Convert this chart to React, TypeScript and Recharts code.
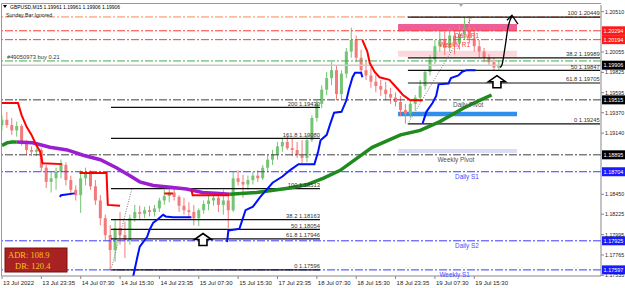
import { Bar, ComposedChart, Line, ReferenceArea, ReferenceDot, ReferenceLine, XAxis, YAxis } from 'recharts'

const FONT = '"Liberation Sans", Arial, sans-serif'
const UP = '#74c474'
const DOWN = '#f27a7a'

// one candle per hour (every 4th M15 bar): open, high, low, close
const candles: number[][] = [
  [1.1923, 1.1934, 1.1917, 1.1929], [1.1929, 1.1938, 1.1920, 1.1923], [1.1923, 1.1931, 1.1912, 1.1917],
  [1.1917, 1.1927, 1.1910, 1.1922], [1.1922, 1.1924, 1.1900, 1.1904], [1.1904, 1.1906, 1.1889, 1.1895],
  [1.1895, 1.1899, 1.1888, 1.1893], [1.1893, 1.1897, 1.1888, 1.1895], [1.1895, 1.1897, 1.1870, 1.1875],
  [1.1875, 1.1878, 1.1852, 1.1859], [1.1859, 1.1870, 1.1847, 1.1863], [1.1863, 1.1875, 1.1850, 1.1870],
  [1.1870, 1.1884, 1.1863, 1.1878], [1.1878, 1.1881, 1.1855, 1.1861], [1.1861, 1.1866, 1.1844, 1.1850],
  [1.1850, 1.1855, 1.1838, 1.1844], [1.1844, 1.1872, 1.1824, 1.1863], [1.1863, 1.1875, 1.1855, 1.1870],
  [1.1870, 1.1872, 1.1850, 1.1854], [1.1854, 1.1861, 1.1833, 1.1838], [1.1838, 1.1844, 1.1810, 1.1818],
  [1.1818, 1.1822, 1.1793, 1.1799], [1.1799, 1.1810, 1.17596, 1.1782], [1.1782, 1.1816, 1.1769, 1.1807],
  [1.1807, 1.1825, 1.1788, 1.1799], [1.1799, 1.1814, 1.1773, 1.1793], [1.1793, 1.1822, 1.1788, 1.1818],
  [1.1818, 1.1833, 1.1814, 1.1825], [1.1825, 1.1832, 1.1816, 1.1823], [1.1823, 1.1831, 1.1818, 1.1827],
  [1.1827, 1.1832, 1.1820, 1.1825], [1.1825, 1.1833, 1.1820, 1.1829], [1.1829, 1.1841, 1.1825, 1.1838],
  [1.1838, 1.1850, 1.1833, 1.1843], [1.1843, 1.1852, 1.1836, 1.1847], [1.1847, 1.1854, 1.1838, 1.1842],
  [1.1842, 1.1844, 1.1825, 1.1832], [1.1832, 1.1841, 1.1822, 1.1827], [1.1827, 1.1836, 1.1818, 1.1825],
  [1.1825, 1.1833, 1.1810, 1.1818], [1.1818, 1.1829, 1.1809, 1.1827], [1.1827, 1.1838, 1.1823, 1.1834],
  [1.1834, 1.1843, 1.1827, 1.1838], [1.1838, 1.1847, 1.1832, 1.1841], [1.1841, 1.1845, 1.1825, 1.1833],
  [1.1833, 1.1850, 1.1822, 1.1838], [1.1838, 1.1847, 1.1807, 1.1827], [1.1827, 1.1870, 1.1825, 1.1863],
  [1.1863, 1.1872, 1.1855, 1.1859], [1.1859, 1.1867, 1.1841, 1.1856], [1.1856, 1.1866, 1.1850, 1.1861],
  [1.1861, 1.1870, 1.1856, 1.1866], [1.1866, 1.1872, 1.1859, 1.1863], [1.1863, 1.1878, 1.1861, 1.1875],
  [1.1875, 1.1889, 1.1870, 1.1884], [1.1884, 1.1895, 1.1878, 1.1890], [1.1890, 1.1904, 1.1884, 1.1899],
  [1.1899, 1.1908, 1.1893, 1.1904], [1.1904, 1.1911, 1.1895, 1.1897], [1.1897, 1.1908, 1.1888, 1.1895],
  [1.1895, 1.1904, 1.1886, 1.1889], [1.1889, 1.1906, 1.1880, 1.1886], [1.1886, 1.1912, 1.1881, 1.1906],
  [1.1906, 1.1934, 1.1904, 1.1931], [1.1931, 1.1951, 1.1927, 1.1947], [1.1947, 1.1968, 1.1942, 1.1963],
  [1.1963, 1.1983, 1.1957, 1.1976], [1.1976, 1.1994, 1.1968, 1.1985], [1.1985, 1.1990, 1.1951, 1.1958],
  [1.1958, 1.1985, 1.1951, 1.1981], [1.1981, 1.2010, 1.1976, 1.2006], [1.2006, 1.2033, 1.1999, 1.2019],
  [1.2019, 1.2024, 1.1994, 1.1999], [1.1999, 1.2008, 1.1980, 1.1985], [1.1985, 1.1997, 1.1974, 1.1979],
  [1.1979, 1.1988, 1.1965, 1.1972], [1.1972, 1.1980, 1.1960, 1.1967], [1.1967, 1.1974, 1.1956, 1.1963],
  [1.1963, 1.1972, 1.1951, 1.1958], [1.1958, 1.1965, 1.1947, 1.1954], [1.1954, 1.1960, 1.1944, 1.1949],
  [1.1949, 1.1956, 1.1933, 1.1940], [1.1940, 1.1947, 1.19245, 1.1936], [1.1936, 1.1951, 1.1931, 1.1947],
  [1.1947, 1.1957, 1.1940, 1.1954], [1.1954, 1.1974, 1.1949, 1.1967], [1.1967, 1.1985, 1.1963, 1.1983],
  [1.1983, 1.2002, 1.1979, 1.1997], [1.1997, 1.2019, 1.1992, 1.2012], [1.2012, 1.2030, 1.2006, 1.2019],
  [1.2019, 1.2028, 1.2002, 1.2010], [1.2010, 1.2033, 1.2006, 1.2024], [1.2024, 1.2030, 1.2003, 1.2015],
  [1.2015, 1.2035, 1.2008, 1.2026], [1.2026, 1.20449, 1.2019, 1.2033], [1.2033, 1.2044, 1.2015, 1.2021],
  [1.2021, 1.2033, 1.2006, 1.2012], [1.2012, 1.2019, 1.1999, 1.2006], [1.2006, 1.2010, 1.1994, 1.1999],
  [1.1999, 1.2003, 1.1990, 1.1994], [1.1994, 1.1999, 1.1985, 1.1988], [1.1988, 1.19961, 1.1985, 1.19906],
]

const timeTicks = [0, 32, 64, 96, 128, 160, 192, 224, 256, 288, 320, 352, 384]
const timeLabels = ['13 Jul 2022', '13 Jul 23:35', '14 Jul 07:30', '14 Jul 15:30', '14 Jul 23:35', '15 Jul 07:30',
  '15 Jul 15:30', '17 Jul 23:35', '18 Jul 07:30', '18 Jul 15:30', '18 Jul 23:35', '19 Jul 07:30', '19 Jul 15:30']
const priceTicks = [1.2051, 1.20055, 1.19825, 1.19595, 1.1937, 1.1914, 1.1845, 1.18225, 1.17995, 1.17765, 1.17535]

// [bar, price]; null breaks the line
const redStop: (number | null)[][] = [
  [0, 1.1948], [13, 1.1948], [16, 1.1934], [20, 1.1921], [24, 1.1912], [28, 1.19], [31, 1.1893], [33, 1.188],
  [49, 1.1879], [55, null], [63, 1.1869], [85, 1.1869], [86, 1.1833], [96, 1.1832], [110, null],
  [132, 1.1846], [139, 1.1846], [146, null], [154, 1.185], [155, 1.1844], [185, 1.1844], [240, null],
  [293, 1.2019], [297, 1.2006], [299, 1.1993], [303, 1.1983], [307, 1.1977], [315, 1.1974], [319, 1.1968],
  [326, 1.1957], [332, 1.1951], [342, 1.1951],
]
const blueStop: (number | null)[][] = [
  [47, 1.1842], [48, 1.1844], [59, 1.1846], [80, null],
  [106, 1.1748], [110, 1.1774], [112, 1.1786], [118, 1.1797], [120, 1.1805], [123, 1.1813], [126, 1.1816],
  [131, 1.1822], [133, 1.182], [139, 1.1819], [154, 1.1819], [170, null],
  [183, 1.1791], [184, 1.1804], [193, 1.1806], [198, 1.1827], [204, 1.1831], [210, 1.1842], [215, 1.185],
  [220, 1.1858], [228, 1.1865], [234, 1.1872], [241, 1.1879], [254, 1.1879], [257, 1.1893], [259, 1.1906],
  [264, 1.1912], [267, 1.1925], [270, 1.1937], [276, 1.1938], [280, 1.1951], [282, 1.1963], [285, 1.1977],
  [287, 1.1982], [292, 1.1982], [293, 1.1977], [310, null],
  [342, 1.1925], [345, 1.1938], [350, 1.1948], [353, 1.1956], [355, 1.1969], [363, 1.197], [365, 1.1976],
  [371, 1.1979], [374, 1.1983], [378, 1.1985], [385, 1.1985],
]
// moving average, green while rising, purple while falling
const maRising: (number | null)[][] = [
  [0, 1.19], [4, 1.1903], [8, 1.1904], [12, 1.1904], [100, null],
  [185, 1.1845], [207, 1.1847], [234, 1.1852], [248, 1.1856], [261, 1.1863], [275, 1.1872], [289, 1.1886],
  [301, 1.1898], [324, 1.1912], [340, 1.1917], [356, 1.1927], [375, 1.1942], [387, 1.195], [398, 1.1957],
]
const maFalling: (number | null)[][] = [
  [12, 1.1904], [25, 1.1903], [39, 1.1898], [53, 1.1895], [66, 1.1889], [80, 1.1884], [93, 1.1875],
  [104, 1.1866], [112, 1.1859], [123, 1.1855], [137, 1.1853], [150, 1.1851], [163, 1.1847], [177, 1.1846],
  [185, 1.1845],
]
const arrowPath: number[][] = [[405, 1.1988], [406.5, 1.1991], [409, 1.2011], [411.5, 1.2034], [414.6, 1.2046]]

const upperFibLevels = ['100', '38.2', '50', '61.8', '0']
const upperFibPrices = [1.20449, 1.19989, 1.19847, 1.19705, 1.19245]
const lowerFibLevels = ['200', '161.8', '100', '38.2', '50', '61.8', '0']
const lowerFibPrices = [1.1943, 1.1908, 1.18513, 1.18163, 1.18054, 1.17946, 1.17596]

const resistLevels = [1.20294, 1.20194]
const pivotLevels = [1.19515, 1.18895]
const supportLevels = [1.18704, 1.17925, 1.17597]
const weeklyTop = 1.2045
const buyLevel = 1.19954
const bidPrice = 1.19906

const zones = [[1.2029, 1.2037], [1.2, 1.2007], [1.1933, 1.1938], [1.18916, 1.18961]]
const zoneColors = ['#ef5f95', '#fcd8dc', '#2f8fea', '#dcdcf6']

const levelNames = ['Daily R1', 'Weekly R1', 'Daily Pivot', 'Weekly Pivot', 'Daily S1', 'Daily S2', 'Weekly S1']
const levelNamePrices = [1.20294, 1.20194, 1.19515, 1.18895, 1.18704, 1.17925, 1.17597]
const levelNameBars = [378, 368, 379, 369, 378, 378, 368]
const signalArrows = [[163.4, 1.1794], [402.4, 1.1972]]

const rows = candles.map((c, i) => ({ bar: i * 4, o: c[0], h: c[1], l: c[2], c: c[3] }))
const toRows = (pts: (number | null)[][]) => pts.map(([bar, v]) => ({ bar, v }))

function Candle(props: any) {
  const { x, y, width, height, payload } = props
  if (!payload) return null
  const top = Math.min(y, y + height)
  const h = Math.abs(height)
  const k = h / (payload.h - payload.l || 1)
  const cx = x + width / 2
  const col = payload.c >= payload.o ? UP : DOWN
  const bTop = top + (payload.h - Math.max(payload.o, payload.c)) * k
  const bH = Math.max(1, Math.abs(payload.c - payload.o) * k)
  return (
    <g>
      <line x1={cx} x2={cx} y1={top} y2={top + h} stroke={col} strokeWidth={1} />
      <rect x={cx - 1.5} y={bTop} width={3} height={bH} fill={col} />
    </g>
  )
}

const textAt = (txt: string, color: string, dy: number, anchor = 'middle', size = 6.4) => (p: any) => (
  <text x={p.cx} y={p.cy + dy} textAnchor={anchor as any} fontSize={size} fill={color} fontFamily={FONT}>{txt}</text>
)

const priceBox = (price: number, bg: string) => (p: any) => (
  <g>
    <rect x={p.cx + 1} y={p.cy - 4.5} width={23} height={9} fill={bg} />
    <text x={p.cx + 12.5} y={p.cy + 2} textAnchor="middle" fontSize={5.5} fill="#fff" fontFamily={FONT}>{price.toFixed(5)}</text>
  </g>
)

const hollowArrow = (p: any) => (
  <path
    d={`M${p.cx},${p.cy - 6} L${p.cx + 8.5},${p.cy} L${p.cx + 4},${p.cy} L${p.cx + 4},${p.cy + 6} L${p.cx - 4},${p.cy + 6} L${p.cx - 4},${p.cy} L${p.cx - 8.5},${p.cy} Z`}
    fill="#fff" stroke="#000" strokeWidth={1.6}
  />
)

const arrowHead = (p: any) => (
  <path d={`M${p.cx - 5},${p.cy + 5} L${p.cx},${p.cy} L${p.cx + 6},${p.cy + 9}`} fill="none" stroke="#000" strokeWidth={1.3} />
)

const TimeTick = ({ x, y, payload }: any) => (
  <text x={x + 1} y={y + 4} fontSize={6} fill="#222" fontFamily={FONT}>{timeLabels[timeTicks.indexOf(payload.value)]}</text>
)
const PriceTick = ({ x, y, payload }: any) => (
  <text x={x} y={y + 2} fontSize={5.3} fill="#222" fontFamily={FONT}>{Number(payload.value).toFixed(5)}</text>
)

const DASHDOT = '8 2 2 2'

export default function App() {
  return (
    <div style={{ position: 'absolute', left: 0, top: 0, width: 625, height: 288, background: '#fff' }}>
      <ComposedChart width={625} height={288} data={rows} margin={{ top: 5, right: 0, bottom: 0, left: 2 }}>
        <XAxis dataKey="bar" type="number" domain={[0, 487]} allowDataOverflow ticks={timeTicks} interval={0}
          tick={TimeTick} height={12} tickSize={3} tickMargin={2} axisLine={{ stroke: '#888' }} tickLine={{ stroke: '#888' }} />
        <YAxis orientation="right" type="number" domain={[1.17528, 1.20585]} allowDataOverflow ticks={priceTicks}
          interval={0} tick={PriceTick} width={24} tickSize={3} tickMargin={1} axisLine={{ stroke: '#888' }} tickLine={{ stroke: '#888' }} />

        {zones.map((z, i) => (
          <ReferenceArea key={'z' + i} x1={322} x2={418.7} y1={z[0]} y2={z[1]} fill={zoneColors[i]} fillOpacity={1} stroke="none" ifOverflow="visible" />
        ))}

        <ReferenceLine y={weeklyTop} stroke="#f58a5c" strokeDasharray={DASHDOT} />
        {resistLevels.map((p) => <ReferenceLine key={'r' + p} y={p} stroke="#ff3b3b" strokeDasharray={DASHDOT} />)}
        {pivotLevels.map((p) => <ReferenceLine key={'p' + p} y={p} stroke="#404040" strokeDasharray={DASHDOT} />)}
        {supportLevels.map((p) => <ReferenceLine key={'s' + p} y={p} stroke="#3b3bff" strokeDasharray={DASHDOT} />)}
        <ReferenceLine y={buyLevel} stroke="#3fae49" strokeDasharray={DASHDOT} />
        <ReferenceLine y={bidPrice} stroke="#c8c8c8" strokeWidth={1.5} />

        {upperFibPrices.map((p) => (
          <ReferenceLine key={'uf' + p} segment={[{ x: 330, y: p }, { x: 486.2, y: p }]} stroke="#111" strokeWidth={1.2} />
        ))}
        {lowerFibPrices.map((p) => (
          <ReferenceLine key={'lf' + p} segment={[{ x: 88.6, y: p }, { x: 258.5, y: p }]} stroke="#111" strokeWidth={1.2} />
        ))}
        <ReferenceLine segment={[{ x: 88.6, y: 1.17596 }, { x: 105.7, y: 1.1852 }]} stroke="#777" strokeDasharray="1 1.5" />
        <ReferenceLine segment={[{ x: 330, y: 1.19245 }, { x: 382, y: 1.20449 }]} stroke="#777" strokeDasharray="1 1.5" />

        <Bar dataKey={(d: any) => [d.l, d.h]} barSize={3} shape={Candle} isAnimationActive={false} />

        <Line data={toRows(maFalling)} dataKey="v" stroke="#9b1fd0" strokeWidth={3.5} dot={false} isAnimationActive={false} />
        <Line data={toRows(maRising)} dataKey="v" stroke="#1f8a1f" strokeWidth={3.5} dot={false} isAnimationActive={false} />
        <Line data={toRows(redStop)} dataKey="v" stroke="#ff0000" strokeWidth={2} dot={false} isAnimationActive={false} />
        <Line data={toRows(blueStop)} dataKey="v" stroke="#0010ff" strokeWidth={2} dot={false} isAnimationActive={false} />
        <Line data={toRows(arrowPath)} dataKey="v" type="monotone" stroke="#000" strokeWidth={1.3} dot={false} isAnimationActive={false} />
        <ReferenceDot x={414.6} y={1.2047} r={0} shape={arrowHead} ifOverflow="visible" />

        {signalArrows.map(([b, p]) => (
          <ReferenceDot key={'a' + b} x={b} y={p} r={0} shape={hollowArrow} ifOverflow="visible" />
        ))}

        {upperFibPrices.map((p, i) => (
          <ReferenceDot key={'ufl' + p} x={486} y={p} r={0} ifOverflow="visible"
            shape={textAt(`${upperFibLevels[i]}  ${p.toFixed(5)}`, '#333', -1.8, 'end', 5.8)} />
        ))}
        {lowerFibPrices.map((p, i) => (
          <ReferenceDot key={'lfl' + p} x={258.5} y={p} r={0} ifOverflow="visible"
            shape={textAt(`${lowerFibLevels[i]}  ${p.toFixed(5)}`, '#333', -1.8, 'end', 5.8)} />
        ))}
        {levelNames.map((n, i) => (
          <ReferenceDot key={n} x={levelNameBars[i]} y={levelNamePrices[i]} r={0} ifOverflow="visible"
            shape={textAt(n, i < 2 ? '#ff4040' : i < 4 ? '#505050' : '#4a4aff', 7.5)} />
        ))}
        <ReferenceDot x={4} y={buyLevel} r={0} ifOverflow="visible" shape={textAt('#49050973 buy 0.21', '#333', -1.5, 'start', 5.8)} />

        {resistLevels.map((p) => <ReferenceDot key={'rb' + p} x={487} y={p} r={0} ifOverflow="visible" shape={priceBox(p, '#ff1a1a')} />)}
        <ReferenceDot x={487} y={bidPrice} r={0} ifOverflow="visible" shape={priceBox(bidPrice, '#000')} />
        {pivotLevels.map((p) => <ReferenceDot key={'pb' + p} x={487} y={p} r={0} ifOverflow="visible" shape={priceBox(p, '#000')} />)}
        {supportLevels.map((p) => <ReferenceDot key={'sb' + p} x={487} y={p} r={0} ifOverflow="visible" shape={priceBox(p, '#1a1aff')} />)}
      </ComposedChart>

      <svg width={625} height={288} style={{ position: 'absolute', left: 0, top: 0, pointerEvents: 'none' }}>
        <line x1={1.5} y1={3.5} x2={601} y2={3.5} stroke="#999" />
        <line x1={1.5} y1={3.5} x2={1.5} y2={276} stroke="#999" />
        <path d="M458,3 L464,3 L461,7 Z" fill="#aaa" />
        <path d="M3,5 L7,5 L5,8 Z" fill="#000" />
        <text x={10} y={9} fontSize={5} fill="#000" fontFamily={FONT}>GBPUSD,M15  1.19961 1.19961 1.19906 1.19906</text>
        <text x={6} y={17} fontSize={5.2} fill="#222" fontFamily={FONT}>Sunday Bar Ignored</text>
        <rect x={5} y={248} width={62} height={24} fill="#a82222" stroke="#7a1010" />
        <text x={8} y={258} fontSize={8.5} fill="#f5c518" fontFamily='"Liberation Serif", serif'>ADR: 108.9</text>
        <text x={15} y={269} fontSize={8.5} fill="#f5c518" fontFamily='"Liberation Serif", serif'>DR: 120.4</text>
      </svg>
    </div>
  )
}
